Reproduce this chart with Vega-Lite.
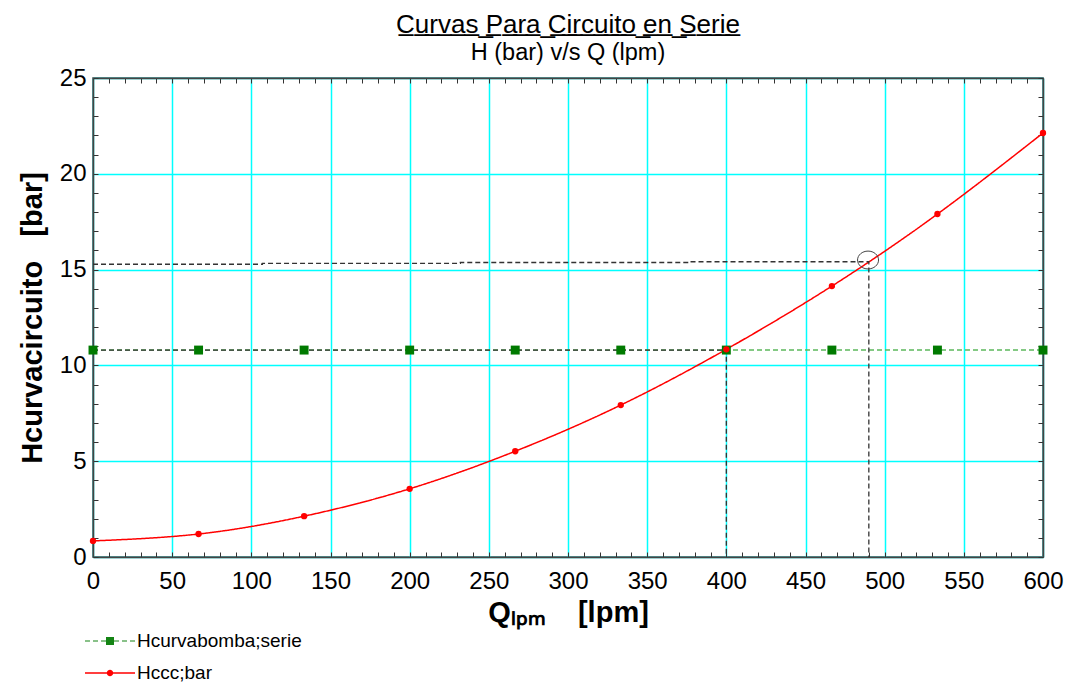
{
  "$schema": "https://vega.github.io/schema/vega-lite/v6.json",
  "width": 950,
  "height": 479,
  "autosize": {"type": "none"},
  "padding": {"left": 93, "top": 78, "right": 31, "bottom": 130},
  "background": "white",
  "title": {
    "text": "C\u0332u\u0332r\u0332v\u0332a\u0332s\u0332 \u0332P\u0332a\u0332r\u0332a\u0332 \u0332C\u0332i\u0332r\u0332c\u0332u\u0332i\u0332t\u0332o\u0332 \u0332e\u0332n\u0332 \u0332S\u0332e\u0332r\u0332i\u0332e\u0332",
    "subtitle": "H (bar) v/s Q (lpm)",
    "font": "Liberation Sans",
    "fontSize": 26,
    "fontWeight": "normal",
    "color": "black",
    "subtitleFont": "Liberation Sans",
    "subtitleFontSize": 23.5,
    "subtitleColor": "black",
    "subtitlePadding": 3,
    "offset": 2,
    "anchor": "middle",
    "frame": "group"
  },
  "config": {
    "view": {"stroke": "#444", "strokeWidth": 1.5},
    "axis": {
      "labelFont": "Liberation Sans",
      "labelFontSize": 24,
      "labelColor": "black",
      "titleFont": "Liberation Sans",
      "titleFontSize": 29,
      "titleFontWeight": "bold",
      "titleColor": "black",
      "domainColor": "#444",
      "domainWidth": 1.5,
      "tickColor": "#333",
      "tickWidth": 1
    }
  },
  "datasets": {
    "curves": [
      {"Q": 0, "H": 10.8, "serie": "Hcurvabomba;serie"},
      {"Q": 66.67, "H": 10.8, "serie": "Hcurvabomba;serie"},
      {"Q": 133.33, "H": 10.8, "serie": "Hcurvabomba;serie"},
      {"Q": 200, "H": 10.8, "serie": "Hcurvabomba;serie"},
      {"Q": 266.67, "H": 10.8, "serie": "Hcurvabomba;serie"},
      {"Q": 333.33, "H": 10.8, "serie": "Hcurvabomba;serie"},
      {"Q": 400, "H": 10.8, "serie": "Hcurvabomba;serie"},
      {"Q": 466.67, "H": 10.8, "serie": "Hcurvabomba;serie"},
      {"Q": 533.33, "H": 10.8, "serie": "Hcurvabomba;serie"},
      {"Q": 600, "H": 10.8, "serie": "Hcurvabomba;serie"},
      {"Q": 0, "H": 0.84, "serie": "Hccc;bar"},
      {"Q": 66.67, "H": 1.2, "serie": "Hccc;bar"},
      {"Q": 133.33, "H": 2.13, "serie": "Hccc;bar"},
      {"Q": 200, "H": 3.56, "serie": "Hccc;bar"},
      {"Q": 266.67, "H": 5.52, "serie": "Hccc;bar"},
      {"Q": 333.33, "H": 7.93, "serie": "Hccc;bar"},
      {"Q": 400, "H": 10.84, "serie": "Hccc;bar"},
      {"Q": 466.67, "H": 14.14, "serie": "Hccc;bar"},
      {"Q": 533.33, "H": 17.9, "serie": "Hccc;bar"},
      {"Q": 600, "H": 22.13, "serie": "Hccc;bar"}
    ],
    "guides": [
      {"g": "a", "i": 0, "Q": 0, "H": 10.8},
      {"g": "a", "i": 1, "Q": 400, "H": 10.8},
      {"g": "a", "i": 2, "Q": 400, "H": 0},
      {"g": "b", "i": 0, "Q": 0, "H": 15.28},
      {"g": "b", "i": 1, "Q": 107, "H": 15.28},
      {"g": "b", "i": 2, "Q": 107, "H": 15.33},
      {"g": "b", "i": 3, "Q": 232, "H": 15.33},
      {"g": "b", "i": 4, "Q": 232, "H": 15.37},
      {"g": "b", "i": 5, "Q": 377, "H": 15.37},
      {"g": "b", "i": 6, "Q": 377, "H": 15.41},
      {"g": "b", "i": 7, "Q": 490, "H": 15.41},
      {"g": "b", "i": 8, "Q": 490, "H": 0}
    ],
    "mark": [
      {"Q": 489.5, "H": 15.5}
    ]
  },
  "layer": [
    {
      "data": {"name": "curves"},
      "mark": {"type": "line", "interpolate": "natural", "strokeWidth": 1.5},
      "encoding": {
        "x": {
          "field": "Q", "type": "quantitative",
          "scale": {"domain": [0, 600], "nice": false, "zero": false},
          "axis": {
            "orient": "bottom",
            "values": [0,10,20,30,40,50,60,70,80,90,100,110,120,130,140,150,160,170,180,190,200,210,220,230,240,250,260,270,280,290,300,310,320,330,340,350,360,370,380,390,400,410,420,430,440,450,460,470,480,490,500,510,520,530,540,550,560,570,580,590,600],
            "labelExpr": "datum.value % 50 === 0 ? datum.label : ''",
            "format": "d",
            "grid": true,
            "gridColor": "#00ffff",
            "gridWidth": 1.5,
            "gridOpacity": {"condition": {"test": "datum.value % 50 === 0", "value": 1}, "value": 0},
            "tickSize": -5,
            "labelPadding": 17,
            "labelOverlap": false,
            "labelFlush": false,
            "title": "Qₗₚₘ\u00a0\u00a0\u00a0\u00a0[lpm]",
            "titlePadding": 5
          }
        },
        "y": {
          "field": "H", "type": "quantitative",
          "scale": {"domain": [0, 25], "nice": false, "zero": false},
          "axis": {
            "orient": "left",
            "values": [0,1,2,3,4,5,6,7,8,9,10,11,12,13,14,15,16,17,18,19,20,21,22,23,24,25],
            "labelExpr": "datum.value % 5 === 0 ? datum.label : ''",
            "format": "d",
            "grid": true,
            "gridColor": "#00ffff",
            "gridWidth": 1.5,
            "gridOpacity": {"condition": {"test": "datum.value % 5 === 0", "value": 1}, "value": 0},
            "tickSize": -5,
            "labelPadding": 12,
            "labelOverlap": false,
            "labelFlush": false,
            "title": "Hcurvacircuito\u00a0\u00a0\u00a0[bar]",
            "titlePadding": 12
          }
        },
        "color": {
          "field": "serie", "type": "nominal",
          "scale": {"domain": ["Hcurvabomba;serie", "Hccc;bar"], "range": ["#5cb85c", "#ff0000"]},
          "legend": {
            "orient": "none",
            "legendX": 7,
            "legendY": 553,
            "title": null,
            "padding": 0,
            "symbolSize": 400,
            "symbolOpacity": 1,
            "symbolStrokeWidth": 0,
            "labelFont": "Liberation Sans",
            "labelFontSize": 19,
            "labelColor": "black",
            "labelLimit": 0,
            "labelOffset": 17,
            "rowPadding": 12
          }
        },
        "strokeDash": {
          "field": "serie", "type": "nominal",
          "scale": {"domain": ["Hcurvabomba;serie", "Hccc;bar"], "range": [[5, 3], [1, 0]]},
          "legend": null
        }
      }
    },
    {
      "data": {"name": "guides"},
      "mark": {"type": "line", "color": "#333", "strokeDash": [5, 3], "strokeWidth": 1.3},
      "encoding": {
        "x": {"field": "Q", "type": "quantitative", "axis": null},
        "y": {"field": "H", "type": "quantitative", "axis": null},
        "detail": {"field": "g"},
        "order": {"field": "i", "type": "quantitative"}
      }
    },
    {
      "data": {"name": "curves"},
      "transform": [{"filter": "datum.serie === 'Hcurvabomba;serie'"}],
      "mark": {"type": "point", "filled": true, "opacity": 1, "shape": "square", "size": 80, "color": "#007a00"},
      "encoding": {
        "x": {"field": "Q", "type": "quantitative", "axis": null},
        "y": {"field": "H", "type": "quantitative", "axis": null}
      }
    },
    {
      "data": {"name": "curves"},
      "transform": [{"filter": "datum.serie === 'Hccc;bar'"}],
      "mark": {"type": "point", "filled": true, "opacity": 1, "shape": "circle", "size": 40, "color": "#ff0000"},
      "encoding": {
        "x": {"field": "Q", "type": "quantitative", "axis": null},
        "y": {"field": "H", "type": "quantitative", "axis": null}
      }
    },
    {
      "data": {"name": "curves"},
      "mark": {"type": "point", "filled": true, "opacity": 0},
      "encoding": {
        "x": {"field": "Q", "type": "quantitative", "axis": null},
        "y": {"field": "H", "type": "quantitative", "axis": null},
        "fill": {
          "field": "serie", "type": "nominal",
          "scale": {"domain": ["Hcurvabomba;serie", "Hccc;bar"], "range": ["#148414", "#ff0000"]},
          "legend": null
        },
        "shape": {
          "field": "serie", "type": "nominal",
          "scale": {"domain": ["Hcurvabomba;serie", "Hccc;bar"], "range": ["M-2.5,-0.06L-2,-0.06L-2,0L-1.7,0L-1.7,-0.06L-1.2,-0.06L-1.2,0L-0.9,0L-0.9,-0.06L-0.4,-0.06L-0.4,-0.4L0.4,-0.4L0.4,-0.06L0.9,-0.06L0.9,0L1.2,0L1.2,-0.06L1.7,-0.06L1.7,0L2,0L2,-0.06L2.5,-0.06L2.5,0.06L2,0.06L2,0L1.7,0L1.7,0.06L1.2,0.06L1.2,0L0.9,0L0.9,0.06L0.4,0.06L0.4,0.4L-0.4,0.4L-0.4,0.06L-0.9,0.06L-0.9,0L-1.2,0L-1.2,0.06L-1.7,0.06L-1.7,0L-2,0L-2,0.06L-2.5,0.06Z", "M-2.5,-0.07L-0.312,-0.07A0.32,0.32 0 0,1 0.312,-0.07L2.5,-0.07L2.5,0.07L0.312,0.07A0.32,0.32 0 0,1 -0.312,0.07L-2.5,0.07Z"]},
          "legend": null
        },
        "size": {
          "field": "serie", "type": "nominal",
          "scale": {"domain": ["Hcurvabomba;serie", "Hccc;bar"], "range": [400, 400]},
          "legend": null
        }
      }
    },
    {
      "data": {"name": "mark"},
      "mark": {"type": "point", "filled": false, "shape": "M-1,0A1,0.85 0 1,0 1,0A1,0.85 0 1,0 -1,0Z", "size": 441, "stroke": "#444", "strokeWidth": 1, "opacity": 1},
      "encoding": {
        "x": {
          "field": "Q", "type": "quantitative",
          "axis": {
            "orient": "top",
            "values": [0,10,20,30,40,50,60,70,80,90,100,110,120,130,140,150,160,170,180,190,200,210,220,230,240,250,260,270,280,290,300,310,320,330,340,350,360,370,380,390,400,410,420,430,440,450,460,470,480,490,500,510,520,530,540,550,560,570,580,590,600],
            "labels": false,
            "grid": false,
            "tickSize": -5,
            "title": null
          }
        },
        "y": {
          "field": "H", "type": "quantitative",
          "axis": {
            "orient": "right",
            "values": [0,1,2,3,4,5,6,7,8,9,10,11,12,13,14,15,16,17,18,19,20,21,22,23,24,25],
            "labels": false,
            "grid": false,
            "tickSize": -5,
            "title": null
          }
        }
      }
    }
  ],
  "resolve": {"axis": {"x": "independent", "y": "independent"}}
}
